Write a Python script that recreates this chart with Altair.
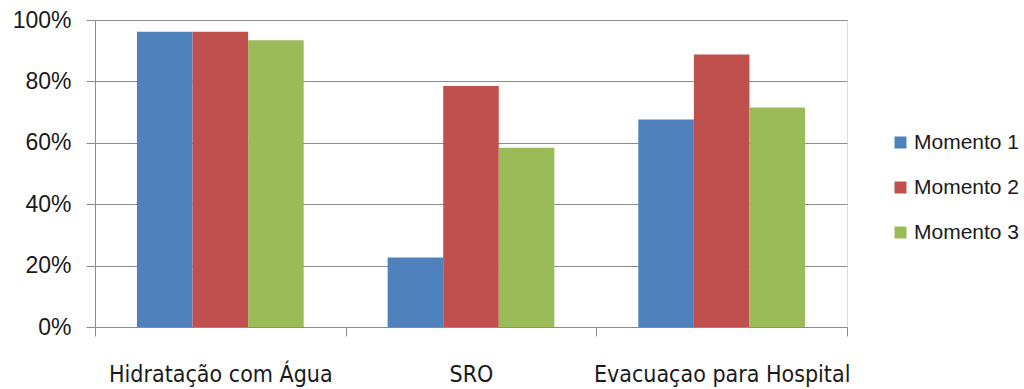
import altair as alt
import pandas as pd

# Share of responses per intervention, across three moments (in %)
categories = ["Hidratação com Água", "SRO", "Evacuaçao para Hospital"]
moments = ["Momento 1", "Momento 2", "Momento 3"]
momento_1 = [96.2, 22.6, 67.6]
momento_2 = [96.2, 78.5, 88.8]
momento_3 = [93.4, 58.4, 71.5]
colors = ["#4F81BD", "#C0504D", "#9BBB59"]
y_ticks = [0, 20, 40, 60, 80, 100]

rows = []
for series_name, series in zip(moments, [momento_1, momento_2, momento_3]):
    for cat, val in zip(categories, series):
        rows.append({"Categoria": cat, "Momento": series_name, "Valor": val})
df = pd.DataFrame(rows)

FONT = "Liberation Sans, Arial, sans-serif"
FONT_NARROW = "DejaVu Sans Condensed, sans-serif"
GRID = "#8C8C8C"
TEXT = "#1A1A1A"

bars = alt.Chart(df).mark_bar().encode(
    x=alt.X(
        "Categoria:N",
        sort=categories,
        scale=alt.Scale(paddingInner=0, paddingOuter=0),
        axis=alt.Axis(
            title=None,
            labelAngle=0,
            tickBand="extent",
            tickSize=9,
            tickColor=GRID,
            domainColor=GRID,
            labelFontSize=23,
            labelFont=FONT_NARROW,
            labelColor=TEXT,
            labelPadding=27,
            labelLimit=0,
            grid=False,
        ),
    ),
    xOffset=alt.XOffset(
        "Momento:N",
        sort=moments,
        scale=alt.Scale(paddingInner=0, paddingOuter=0.755),
    ),
    y=alt.Y(
        "Valor:Q",
        scale=alt.Scale(domain=[0, 100], nice=False),
        axis=alt.Axis(
            title=None,
            values=y_ticks,
            labelExpr="datum.value + '%'",
            tickSize=9,
            tickColor=GRID,
            domainColor=GRID,
            gridColor=GRID,
            labelFontSize=23,
            labelFont=FONT,
            labelColor=TEXT,
            labelPadding=15,
        ),
    ),
    color=alt.Color(
        "Momento:N",
        sort=moments,
        scale=alt.Scale(domain=moments, range=colors),
        legend=alt.Legend(
            title=None,
            orient="none",
            legendX=795,
            legendY=112,
            symbolType="square",
            symbolSize=144,
            symbolStrokeWidth=0,
            labelFontSize=21,
            labelFont=FONT,
            labelColor=TEXT,
            rowPadding=23,
            labelOffset=3,
            labelLimit=0,
        ),
    ),
)

chart = bars.properties(
    width=752,
    height=307,
    padding={"left": 95, "top": 20, "right": 177, "bottom": 62},
    autosize=alt.AutoSizeParams(type="none"),
).configure_view(stroke=None).configure(background="white")

chart.save("out.html", embed_options={"renderer": "svg", "actions": False})
